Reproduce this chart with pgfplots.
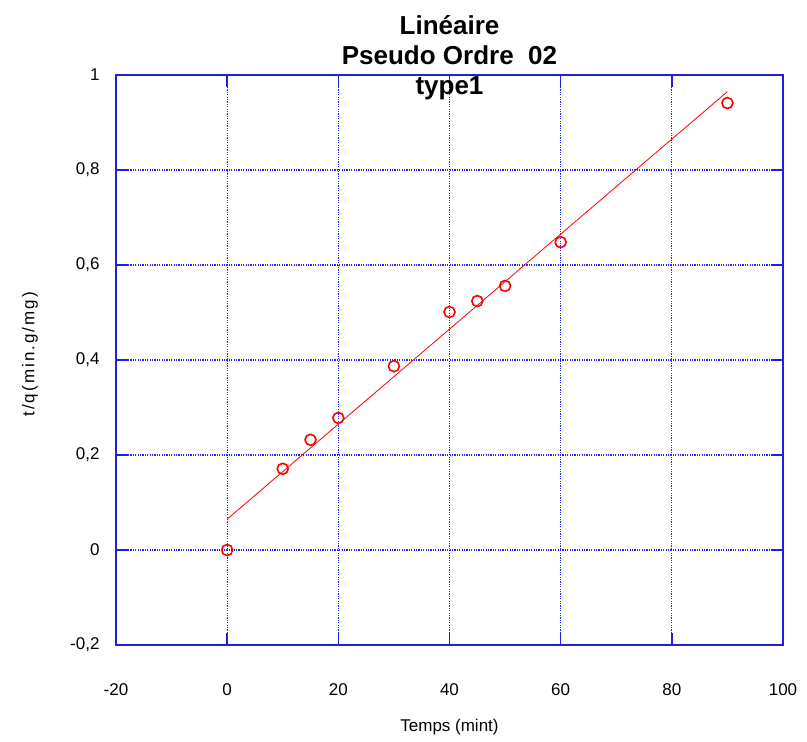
\documentclass[border=0pt]{standalone}
\usepackage{pgfplots}
\pgfplotsset{compat=1.18}
\usepackage{fontspec}
\setmainfont{Liberation Sans}
\definecolor{axblue}{RGB}{30,30,230}
\definecolor{gridblue}{RGB}{40,40,240}
\begin{document}
\begin{tikzpicture}
\begin{axis}[
  scale only axis,
  width=667pt, height=570pt,
  xmin=-20, xmax=100, ymin=-0.2, ymax=1,
  xtick={-20,0,20,40,60,80,100},
  ytick={-0.2,0,0.2,0.4,0.6,0.8,1},
  /pgf/number format/assume math mode=true,
  /pgf/number format/use comma,
  axis line style={axblue, line width=1.8pt},
  tick style={axblue, line width=1.5pt},
  major tick length=12pt,
  tick align=inside,
  xtick pos=both, ytick pos=both,
  grid=major,
  major grid style={gridblue, line width=1.2pt, dash pattern=on 1.2pt off 1.2pt},
  tick label style={font=\fontsize{17}{20}\selectfont},
  xticklabel style={anchor=center, yshift=-45pt},
  yticklabel style={anchor=east, xshift=-13pt},
  xlabel={Temps (mint)},
  ylabel={\addfontfeature{LetterSpace=12}t/q(min.g/mg)},
  label style={font=\fontsize{17}{20}\selectfont},
  xlabel style={at={(axis description cs:0.5,-0.1439)}, anchor=center},
  ylabel style={at={(axis description cs:-0.129,0.51)}, anchor=center, rotate=0},
  title={Linéaire\\Pseudo Ordre~~02\\type1},
  title style={at={(axis description cs:0.5,1.0193)}, anchor=center, align=center,
    font=\bfseries\fontsize{26}{30}\selectfont},
]
\addplot[red, line width=0.8pt] coordinates {(0,0.065) (90,0.965)};
\addplot[only marks, mark=o, red, mark size=5.5pt, line width=1.6pt] coordinates {
  (0,0) (10,0.171) (15,0.232) (20,0.278) (30,0.387) (40,0.501)
  (45,0.524) (50,0.556) (60,0.648) (90,0.941)};
\end{axis}
\path (current axis.south west) ++(-116pt,-97pt) rectangle ++(807pt,742pt);
\end{tikzpicture}
\end{document}
